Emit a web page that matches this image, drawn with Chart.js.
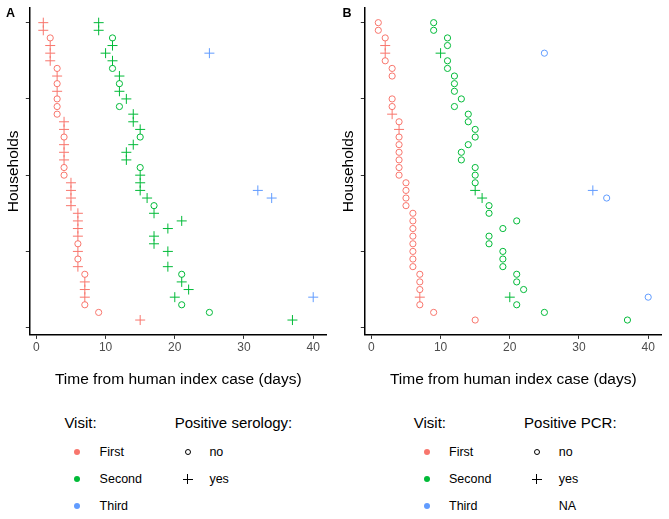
<!DOCTYPE html>
<html>
<head>
<meta charset="utf-8">
<script src="https://cdn.jsdelivr.net/npm/chart.js@4.4.1/dist/chart.umd.min.js"></script>
<style>
  body { margin: 0; background: #fff; font-family: "Liberation Sans", Arial, sans-serif; }
  #wrap { position: relative; width: 669px; height: 519px; overflow: hidden; }
  .panel { position: absolute; top: 0; width: 334px; height: 395px; }
  .txt { position: absolute; white-space: nowrap; color: #000; }
  .tag { font-weight: bold; font-size: 12.5px; }
  .dot { position: absolute; width: 6px; height: 6px; border-radius: 50%; }
  .ring { position: absolute; width: 4px; height: 4px; border: 1px solid #000; border-radius: 50%; }
  .bar { position: absolute; background: #000; }
</style>
</head>
<body>
<div id="wrap">
  <div class="panel" style="left:0"><canvas id="chartA" width="334" height="395"></canvas></div>
  <div class="panel" style="left:335px"><canvas id="chartB" width="334" height="395"></canvas></div>
</div>
<script>
// households from top (40) to bottom (1)
const households = [40, 39, 38, 37, 36, 35, 34, 33, 32, 31, 30, 29, 28, 27, 26, 25, 24, 23, 22, 21,
                    20, 19, 18, 17, 16, 15, 14, 13, 12, 11, 10, 9, 8, 7, 6, 5, 4, 3, 2, 1];
const xTicks = [0, 10, 20, 30, 40];
const yTicks = [0, 10, 20, 30, 40];
const visitNames = ['First', 'Second', 'Third'];

// days from human index case, per household
const firstVisitDay = [1, 1, 2, 2, 2, 2, 3, 3, 3, 3, 3, 3, 3, 4, 4, 4, 4, 4, 4, 4,
                       4, 5, 5, 5, 5, 6, 6, 6, 6, 6, 6, 6, 6, 7, 7, 7, 7, 7, 9, 15];
const secondVisitDay = [9, 9, 11, 11, 10, 11, 11, 12, 12, 12, 13, 12, 14, 14, 15, 15, 14, 13, 13, 15,
                        15, 15, 15, 16, 17, 17, 21, 19, 17, 17, 19, 19, 19, 21, 21, 22, 20, 21, 25, 37];
const thirdVisitDay = [null, null, null, null, 25, null, null, null, null, null, null, null, null, null, null, null, null, null, null, null,
                       null, null, 32, 34, null, null, null, null, null, null, null, null, null, null, null, null, 40, null, null, null];

// panel A: positive serology
const serologyFirst = ['yes', 'yes', 'no', 'yes', 'yes', 'yes', 'no', 'yes', 'no', 'yes', 'no', 'no', 'no', 'yes', 'yes', 'no', 'yes', 'yes', 'yes', 'no',
                       'no', 'yes', 'yes', 'yes', 'yes', 'yes', 'yes', 'yes', 'yes', 'no', 'yes', 'no', 'yes', 'no', 'yes', 'yes', 'yes', 'no', 'no', 'yes'];
const serologySecond = ['yes', 'yes', 'no', 'yes', 'yes', 'yes', 'no', 'yes', 'no', 'yes', 'yes', 'no', 'yes', 'yes', 'yes', 'no', 'yes', 'yes', 'yes', 'no',
                        'yes', 'yes', 'yes', 'yes', 'no', 'yes', 'yes', 'yes', 'yes', 'yes', 'yes', null, 'yes', 'no', 'yes', 'yes', 'yes', 'no', 'no', 'yes'];
const serologyThird = [null, null, null, null, 'yes', null, null, null, null, null, null, null, null, null, null, null, null, null, null, null,
                       null, null, 'yes', 'yes', null, null, null, null, null, null, null, null, null, null, null, null, 'yes', null, null, null];

// panel B: positive PCR
const pcrFirst = ['no', 'no', 'no', 'yes', 'yes', 'no', 'no', 'no', null, null, 'no', 'no', 'yes', 'no', 'yes', 'no', 'no', 'no', 'no', 'no',
                  'no', 'no', 'no', 'no', 'no', 'no', 'no', 'no', 'no', 'no', 'no', 'no', 'no', 'no', 'no', 'no', 'yes', 'no', 'no', 'no'];
const pcrSecond = ['no', 'no', 'no', 'no', 'yes', 'no', 'no', 'no', 'no', 'no', 'no', 'no', 'no', 'no', 'no', 'no', 'no', 'no', 'no', 'no',
                   'no', 'no', 'yes', 'yes', 'no', 'no', 'no', 'no', 'no', 'no', 'no', 'no', 'no', 'no', 'no', 'no', 'yes', 'no', 'no', 'no'];
const pcrThird = [null, null, null, null, 'no', null, null, null, null, null, null, null, null, null, null, null, null, null, null, null,
                  null, null, 'yes', 'no', null, null, null, null, null, null, null, null, null, null, null, null, 'no', null, null, null];

const visitColours = ['#F8766D', '#00BA38', '#619CFF'];
const FONT = '"Liberation Sans", Arial, sans-serif';

function buildDatasets(status) {
    var days = [firstVisitDay, secondVisitDay, thirdVisitDay];
    var out = [];
    visitNames.forEach(function (name, v) {
        ['no', 'yes'].forEach(function (s) {
            var pts = [];
            households.forEach(function (h, i) {
                if (days[v][i] !== null && status[v][i] === s) {
                    pts.push({ x: days[v][i], y: h });
                }
            });
            out.push({
                label: name + ' ' + s,
                data: pts,
                pointStyle: s === 'yes' ? 'cross' : 'circle',
                pointRadius: s === 'yes' ? 5 : 3.1,
                pointBorderWidth: 1,
                borderColor: visitColours[v],
                backgroundColor: 'rgba(0,0,0,0)',
                showLine: false
            });
        });
    });
    return out;
}

function makeChart(id, status) {
    return new Chart(document.getElementById(id), {
        type: 'scatter',
        data: { datasets: buildDatasets(status) },
        options: {
            responsive: false,
            animation: false,
            devicePixelRatio: 1,
            layout: { padding: { left: 0, right: 7.3, top: 7.8, bottom: 0 } },
            plugins: { legend: { display: false }, tooltip: { enabled: false } },
            scales: {
                x: {
                    type: 'linear',
                    min: -0.95,
                    max: 41.95,
                    afterBuildTicks: function (axis) { axis.ticks = xTicks.map(function (v) { return { value: v }; }); },
                    afterFit: function (axis) { axis.height = 60.1; },
                    border: { display: true, color: '#000', width: 1.5 },
                    grid: { drawOnChartArea: false, drawTicks: true, tickLength: 4, color: '#333', lineWidth: 1 },
                    ticks: { color: '#4D4D4D', font: { family: FONT, size: 12 }, padding: 2, maxRotation: 0 },
                    title: {
                        display: true,
                        text: 'Time from human index case (days)',
                        color: '#000',
                        font: { family: FONT, size: 15.5 },
                        padding: { top: 0, bottom: 6.2 }
                    }
                },
                y: {
                    type: 'linear',
                    min: -0.95,
                    max: 41.95,
                    afterBuildTicks: function (axis) { axis.ticks = yTicks.map(function (v) { return { value: v }; }); },
                    afterFit: function (axis) { axis.width = 29.8; },
                    border: { display: true, color: '#000', width: 1.5 },
                    grid: { drawOnChartArea: false, drawTicks: true, tickLength: 4, color: '#333', lineWidth: 1 },
                    ticks: { display: false },
                    title: {
                        display: true,
                        text: 'Households',
                        color: '#000',
                        font: { family: FONT, size: 15.5 },
                        padding: { top: 4.5, bottom: 0 }
                    }
                }
            }
        }
    });
}

makeChart('chartA', [serologyFirst, serologySecond, serologyThird]);
makeChart('chartB', [pcrFirst, pcrSecond, pcrThird]);

// panel tags and legends (HTML)
var wrap = document.getElementById('wrap');
function addText(text, x, cy, size, cls) {
    var d = document.createElement('div');
    d.className = 'txt' + (cls ? ' ' + cls : '');
    d.textContent = text;
    d.style.left = x + 'px';
    d.style.top = (cy - size * 0.6) + 'px';
    d.style.fontSize = size + 'px';
    d.style.lineHeight = (size * 1.2) + 'px';
    wrap.appendChild(d);
}
function addDot(cx, cy, colour) {
    var d = document.createElement('div');
    d.className = 'dot';
    d.style.left = (cx - 3) + 'px';
    d.style.top = (cy - 3) + 'px';
    d.style.background = colour;
    wrap.appendChild(d);
}
function addRing(cx, cy) {
    var d = document.createElement('div');
    d.className = 'ring';
    d.style.left = (cx - 3) + 'px';
    d.style.top = (cy - 3) + 'px';
    wrap.appendChild(d);
}
function addCross(cx, cy) {
    var h = document.createElement('div');
    h.className = 'bar';
    h.style.left = (cx - 5) + 'px'; h.style.top = (cy - 0.5) + 'px';
    h.style.width = '10px'; h.style.height = '1px';
    var v = document.createElement('div');
    v.className = 'bar';
    v.style.left = (cx - 0.5) + 'px'; v.style.top = (cy - 5) + 'px';
    v.style.width = '1px'; v.style.height = '10px';
    wrap.appendChild(h); wrap.appendChild(v);
}

addText('A', 6, 13.5, 12.5, 'tag');
addText('B', 342.5, 13.5, 12.5, 'tag');

var legendRows = [452, 479, 506];
function addLegend(x0, statusTitle, statusLabels) {
    addText('Visit:', x0, 423, 15);
    visitNames.forEach(function (name, i) {
        addDot(x0 + 13, legendRows[i], visitColours[i]);
        addText(name, x0 + 35.2, legendRows[i], 12.5);
    });
    addText(statusTitle, x0 + 110.3, 423, 15);
    statusLabels.forEach(function (lab, i) {
        if (i === 0) addRing(x0 + 123.1, legendRows[i]);
        if (i === 1) addCross(x0 + 123.1, legendRows[i]);
        addText(lab, x0 + 145, legendRows[i], 12.5);
    });
}
addLegend(64.4, 'Positive serology:', ['no', 'yes']);
addLegend(413.8, 'Positive PCR:', ['no', 'yes', 'NA']);
</script>
</body>
</html>
